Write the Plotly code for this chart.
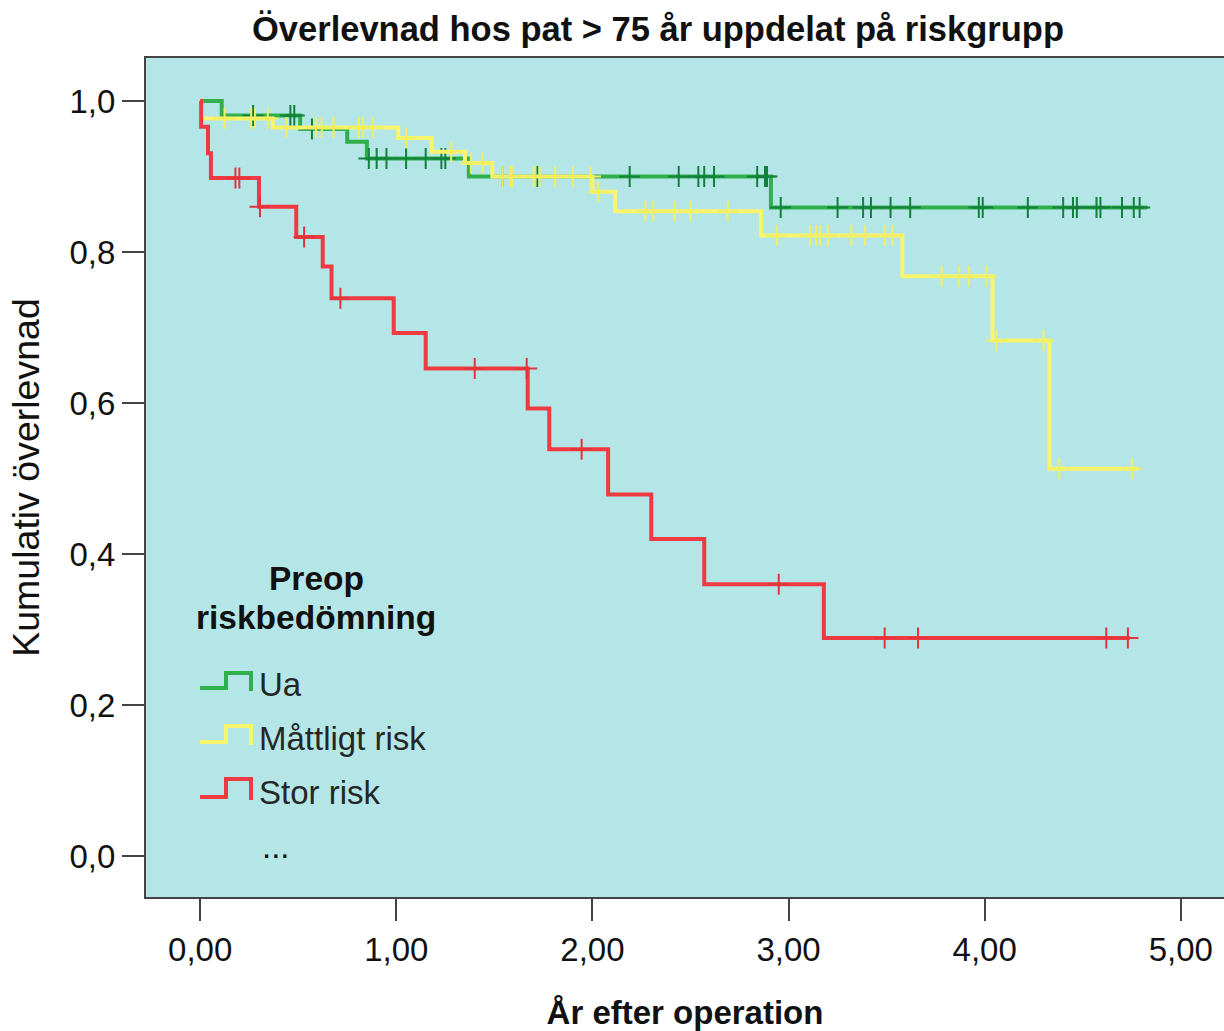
import plotly.graph_objects as go

# ---------------- data ----------------
group_names = ["Ua", "Måttligt risk", "Stor risk"]

ua_times = [0.0, 0.11, 0.51, 0.75, 0.85, 1.37, 2.91, 4.83]
ua_surv = [1.0, 0.981, 0.963, 0.946, 0.924, 0.900, 0.859, 0.859]
ua_censor = [0.27, 0.46, 0.48, 0.57, 0.86, 0.90, 0.95, 1.05, 1.15, 1.23, 1.25,
             1.54, 1.58, 1.72, 2.19, 2.44, 2.54, 2.57, 2.62, 2.84, 2.88, 2.89,
             2.96, 3.25, 3.38, 3.42, 3.52, 3.62, 3.97, 3.99, 4.22, 4.40, 4.45,
             4.47, 4.57, 4.59, 4.70, 4.76, 4.79]

mod_times = [0.0, 0.005, 0.37, 1.01, 1.18, 1.35, 1.49, 2.00, 2.115, 2.86, 3.58, 4.04, 4.33, 4.78]
mod_surv = [1.0, 0.977, 0.965, 0.951, 0.933, 0.918, 0.900, 0.880, 0.854, 0.822, 0.768, 0.683, 0.513, 0.513]
mod_censor = [0.125, 0.26, 0.28, 0.345, 0.44, 0.59, 0.62, 0.68, 0.81, 0.83, 0.88,
              1.05, 1.28, 1.38, 1.44, 1.54, 1.58, 1.59, 1.70, 1.73, 1.81, 1.90,
              1.99, 2.03, 2.27, 2.31, 2.42, 2.50, 2.69, 2.94, 3.11, 3.14, 3.16,
              3.20, 3.32, 3.39, 3.49, 3.53, 3.78, 3.87, 3.92, 4.01, 4.06, 4.30,
              4.38, 4.75]

big_times = [0.0, 0.005, 0.04, 0.055, 0.30, 0.49, 0.625, 0.67, 0.987, 1.15, 1.67,
             1.78, 2.08, 2.30, 2.57, 3.18, 4.74]
big_surv = [1.0, 0.966, 0.931, 0.898, 0.860, 0.820, 0.781, 0.739, 0.693, 0.646,
            0.593, 0.539, 0.479, 0.420, 0.360, 0.289, 0.289]
big_censor = [0.18, 0.20, 0.305, 0.53, 0.715, 1.40, 1.665, 1.945, 2.95, 3.49, 3.66, 4.62, 4.73]

x_tickvals = [0, 1, 2, 3, 4, 5]
x_ticktext = ["0,00", "1,00", "2,00", "3,00", "4,00", "5,00"]
y_tickvals = [0.0, 0.2, 0.4, 0.6, 0.8, 1.0]
y_ticktext = ["0,0", "0,2", "0,4", "0,6", "0,8", "1,0"]

title_text = "Överlevnad hos pat > 75 år uppdelat på riskgrupp"
x_title = "År efter operation"
y_title = "Kumulativ överlevnad"
legend_title_lines = ["Preop", "riskbedömning"]

# ---------------- styling ----------------
line_colors = ["#2fb04a", "#f8f46c", "#ee3a40"]
mark_colors = ["#12803c", "#f2ee62", "#e5333a"]
bg = "#b4e6e7"
FONT = "Liberation Sans, Arial, sans-serif"

W, H = 1224, 1031
L, R, T, B = 146, 0, 58, 134
PW, PH = W - L - R, H - T - B


def px(xp):
    return (xp - L) / PW


def py(yp):
    return (H - B - yp) / PH


def surv_at(times, surv, t):
    val = surv[0]
    for ti, si in zip(times, surv):
        if ti <= t:
            val = si
        else:
            break
    return val


fig = go.Figure()

groups = [(ua_times, ua_surv, ua_censor), (mod_times, mod_surv, mod_censor),
          (big_times, big_surv, big_censor)]

for i, (tt, ss, cc) in enumerate(groups):
    fig.add_trace(go.Scatter(
        x=tt, y=ss, mode="lines", line=dict(shape="hv", color=line_colors[i], width=4),
        name=group_names[i], showlegend=False, hoverinfo="skip"))
    fig.add_trace(go.Scatter(
        x=cc, y=[surv_at(tt, ss, c) for c in cc], mode="markers",
        marker=dict(symbol="cross-thin", size=15,
                    line=dict(color=mark_colors[i], width=2)),
        name=group_names[i] + " censurerad", showlegend=False, hoverinfo="skip"))

# ---------------- custom legend ----------------
legend_rows = [(688, 673), (742, 726), (797, 779)]
for i, (low, high) in enumerate(legend_rows):
    path = (f"M {px(200)},{py(low)} L {px(226)},{py(low)} L {px(226)},{py(high)} "
            f"L {px(251)},{py(high)} L {px(251)},{py(low + 3)}")
    fig.add_shape(type="path", path=path, xref="paper", yref="paper",
                  line=dict(color=line_colors[i], width=4))
    fig.add_annotation(x=px(257), y=py((low + high) / 2 + 4), xref="paper", yref="paper",
                       text=group_names[i], showarrow=False, xanchor="left", yanchor="middle",
                       font=dict(family=FONT, size=33, color="#262626"))

fig.add_annotation(x=px(260), y=py(846), xref="paper", yref="paper", text="...",
                   showarrow=False, xanchor="left", yanchor="middle",
                   font=dict(family=FONT, size=33, color="#111111"))

for j, (ln, yy) in enumerate(zip(legend_title_lines, [578, 617])):
    fig.add_annotation(x=px(316), y=py(yy), xref="paper", yref="paper",
                       text=f"<b>{ln}</b>", showarrow=False, xanchor="center",
                       yanchor="middle", font=dict(family=FONT, size=33.5, color="#111111"))

fig.update_layout(
    width=W, height=H, autosize=False,
    margin=dict(l=L, r=R, t=T, b=B),
    paper_bgcolor="white", plot_bgcolor=bg,
    title=dict(text=f"<b>{title_text}</b>", x=658 / W, xanchor="center", xref="container",
               y=1 - 29 / H, yanchor="middle", yref="container",
               font=dict(family=FONT, size=34.5, color="#111111")),
    font=dict(family=FONT, color="#111111"),
    showlegend=False,
)

fig.update_xaxes(
    range=[-0.276, 5.22], tickvals=x_tickvals, ticktext=x_ticktext,
    ticks="outside", ticklen=22, tickwidth=2, tickcolor="#444",
    showline=True, linecolor="#444", linewidth=2, mirror=True,
    showgrid=False, zeroline=False,
    tickfont=dict(family=FONT, size=33, color="#111111"),
    title=dict(text=f"<b>{x_title}</b>", standoff=34,
               font=dict(family=FONT, size=33, color="#111111")),
)
fig.update_yaxes(
    range=[-0.054, 1.057], tickvals=y_tickvals, ticktext=y_ticktext,
    ticks="outside", ticklen=22, tickwidth=2, tickcolor="#444",
    showline=True, linecolor="#444", linewidth=2,
    showgrid=False, zeroline=False,
    tickfont=dict(family=FONT, size=33, color="#111111"),
    title=dict(text=y_title, standoff=18,
               font=dict(family=FONT, size=37.5, color="#111111")),
)

fig.write_html("out.html")
